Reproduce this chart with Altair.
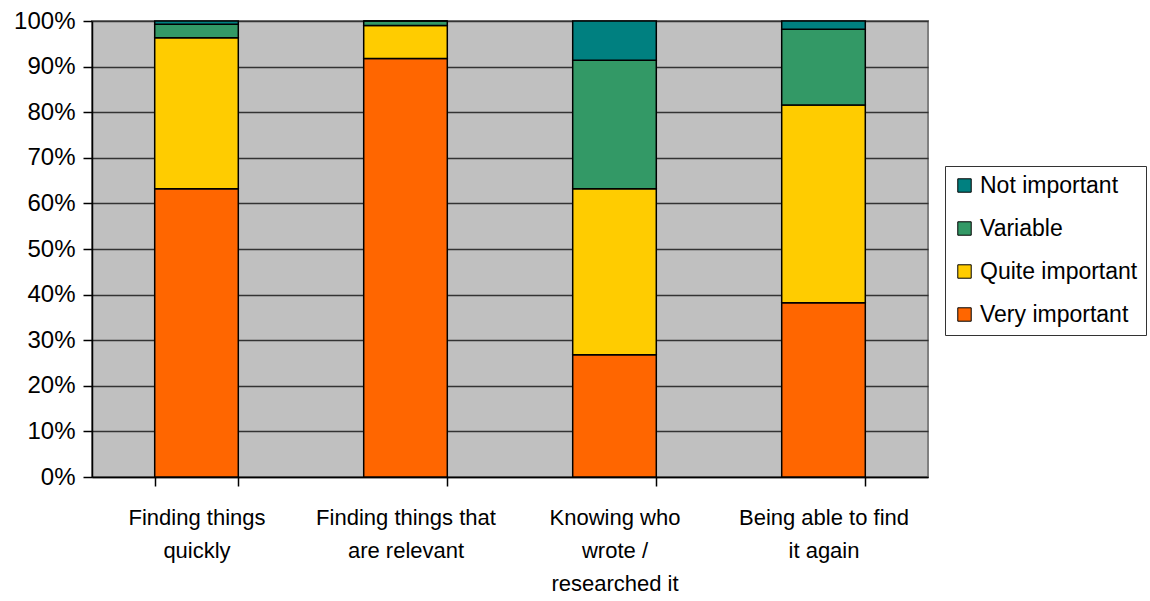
import altair as alt
import pandas as pd

# Survey categories; "|" marks the line breaks in the axis labels
categories = [
    "Finding things|quickly",
    "Finding things that|are relevant",
    "Knowing who|wrote /|researched it",
    "Being able to find|it again",
]

# Share of respondents (%) per rating, one value per category
very_important = [63.2, 91.8, 26.8, 38.2]
quite_important = [33.1, 7.2, 36.4, 43.4]
variable = [3.0, 1.0, 28.2, 16.6]
not_important = [0.7, 0.0, 8.6, 1.8]

# Legend order (top to bottom) and colours
legend_order = ["Not important", "Variable", "Quite important", "Very important"]
legend_colors = ["#008080", "#339966", "#ffcc00", "#ff6600"]

series = {
    "Very important": very_important,
    "Quite important": quite_important,
    "Variable": variable,
    "Not important": not_important,
}
# stack position: 1 = bottom of the column
stack_rank = {"Very important": 1, "Quite important": 2, "Variable": 3, "Not important": 4}

rows = []
for level, vals in series.items():
    for cat, v in zip(categories, vals):
        rows.append({"cat": cat, "level": level, "value": v, "rank": stack_rank[level]})
df = pd.DataFrame(rows)

FONT = "Liberation Sans"

chart = (
    alt.Chart(df)
    .mark_bar(stroke="black", strokeWidth=1.5)
    .encode(
        x=alt.X(
            "cat:N",
            sort=categories,
            scale=alt.Scale(paddingInner=0.6, paddingOuter=0.3),
            axis=alt.Axis(
                title=None,
                labelAngle=0,
                tickBand="extent",
                labelExpr="split(datum.label, '|')",
                labelFontSize=22,
                labelLineHeight=33,
                labelBaseline="top",
                labelPadding=21,
                labelLimit=400,
                labelColor="black",
                labelFont=FONT,
                domainColor="black",
                domainWidth=1.5,
                tickColor="black",
                tickWidth=1.5,
                tickSize=9,
                grid=False,
            ),
        ),
        y=alt.Y(
            "value:Q",
            stack="zero",
            scale=alt.Scale(domain=[0, 100], nice=False),
            axis=alt.Axis(
                title=None,
                values=list(range(0, 101, 10)),
                labelExpr="datum.value + '%'",
                labelFontSize=24,
                labelColor="black",
                labelFont=FONT,
                labelPadding=8,
                tickColor="black",
                tickWidth=1.5,
                tickSize=9,
                domainColor="black",
                domainWidth=1.5,
                grid=True,
                gridColor="#333333",
                gridWidth=1.5,
            ),
        ),
        color=alt.Color(
            "level:N",
            scale=alt.Scale(domain=legend_order, range=legend_colors),
            legend=alt.Legend(
                title=None,
                orient="none",
                legendX=853,
                legendY=145,
                strokeColor="#333333",
                fillColor="white",
                padding=8,
                labelFontSize=23,
                labelFont=FONT,
                labelColor="black",
                labelOffset=4,
                labelLimit=300,
                symbolType="square",
                symbolSize=180,
                symbolStrokeColor="black",
                symbolStrokeWidth=1,
                symbolOpacity=1,
                rowPadding=19,
            ),
        ),
        order=alt.Order("rank:Q", sort="ascending"),
    )
    .properties(
        width=836,
        height=456,
        autosize=alt.AutoSizeParams(type="none"),
        padding={"left": 92, "top": 21, "right": 222, "bottom": 124},
        background="white",
    )
    .configure_view(fill="#c0c0c0", stroke="#808080", strokeWidth=2)
)

chart.save("out.html", embed_options={"renderer": "svg", "actions": False})
